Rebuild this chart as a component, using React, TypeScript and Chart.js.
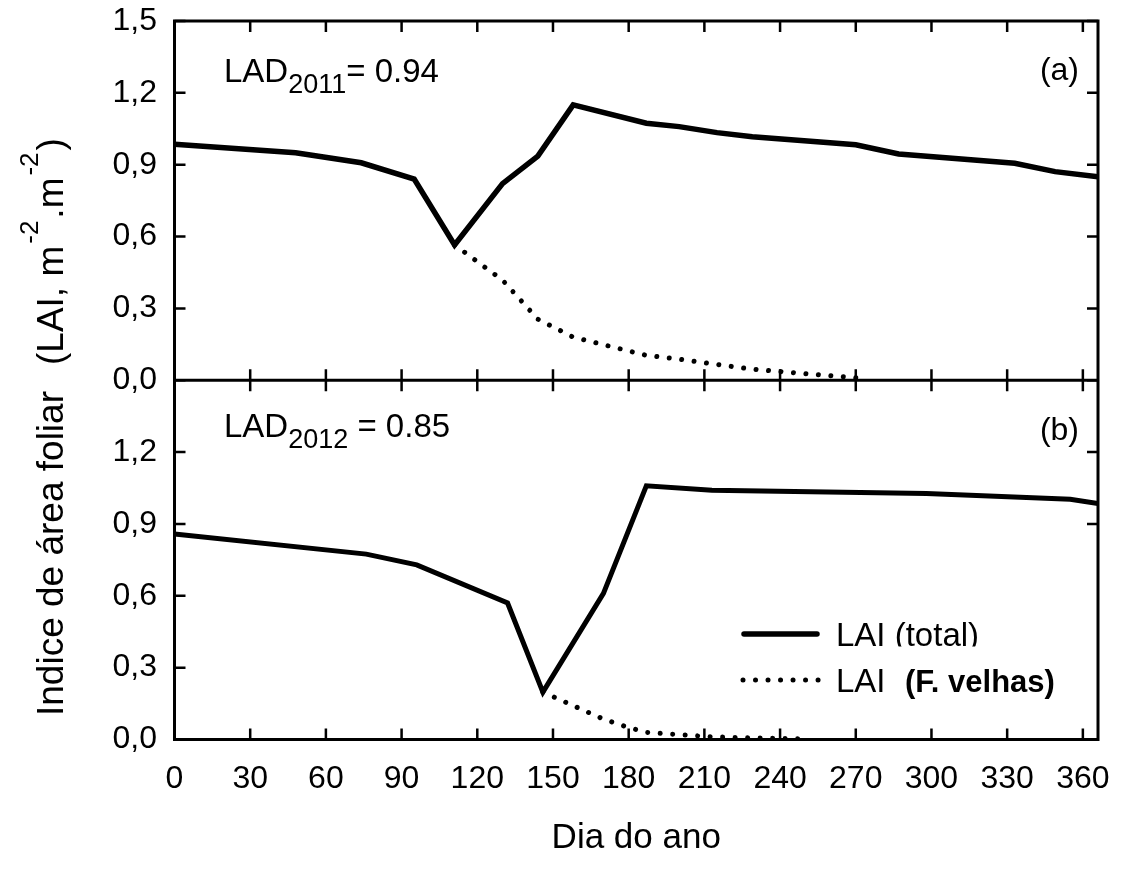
import React, { useEffect, useRef } from "react";
import { Chart, registerables } from "chart.js";

Chart.register(...registerables);

// ---------- data ----------
const xTickValues = [0, 30, 60, 90, 120, 150, 180, 210, 240, 270, 300, 330, 360];
const yTickValues = [0, 0.3, 0.6, 0.9, 1.2, 1.5];

const dayTotal2011 = [0, 48, 74, 95, 111, 130, 144, 158, 187, 200, 215, 229, 270, 287, 333, 349, 366];
const laiTotal2011 = [0.985, 0.95, 0.908, 0.84, 0.565, 0.821, 0.936, 1.15, 1.073, 1.059, 1.034, 1.017, 0.983, 0.945, 0.906, 0.871, 0.85];

const dayOld2011 = [111, 130, 144, 158, 187, 200, 215, 229, 270];
const laiOld2011 = [0.565, 0.418, 0.255, 0.18, 0.104, 0.088, 0.066, 0.046, 0.01];

const dayTotal2012 = [0, 76, 96, 132, 146, 170, 187, 213, 298, 355, 366];
const laiTotal2012 = [0.858, 0.774, 0.729, 0.57, 0.198, 0.61, 1.059, 1.041, 1.027, 1.003, 0.985];

const dayOld2012 = [146, 170, 180, 187, 213, 250];
const laiOld2012 = [0.198, 0.085, 0.05, 0.03, 0.011, 0.002];

const labelTotal = "LAI (total)";
const labelOldA = "LAI";
const labelOldB = "(F. velhas)";
const xTitle = "Dia do ano";

const FONT = "'Liberation Sans', Arial, Helvetica, sans-serif";

const toPoints = (xs: number[], ys: number[]) => xs.map((x, i) => ({ x, y: ys[i] }));
const fmt = (v: number) => Number(v).toFixed(1).replace(".", ",");

const legendBox = { top: 588, bottom: 737 };

const decorPlugin = {
  id: "decor",
  afterDraw(chart: any) {
    const { ctx, chartArea, scales } = chart;
    const x = scales.x;
    const yT = scales.yTop;
    const yB = scales.yBot;
    const L = chartArea.left;
    const R = chartArea.right;
    ctx.save();
    ctx.strokeStyle = "#000";
    ctx.fillStyle = "#000";

    // inward ticks
    const tl = 11;
    ctx.lineWidth = 2.5;
    ctx.beginPath();
    for (const v of xTickValues) {
      const px = x.getPixelForValue(v);
      const edges: [number, number][] = [
        [yT.top, 1],
        [yT.bottom, -1],
        [yB.top, 1],
        [yB.bottom, -1],
      ];
      for (const [e, d] of edges) {
        ctx.moveTo(px, e);
        ctx.lineTo(px, e + d * tl);
      }
    }
    const panels: [any, boolean][] = [
      [yT, false],
      [yB, true],
    ];
    for (const [ys, skip] of panels) {
      for (const v of yTickValues) {
        const py = ys.getPixelForValue(v);
        ctx.moveTo(L, py);
        ctx.lineTo(L + tl, py);
        if (skip && py > legendBox.top && py < legendBox.bottom) continue;
        ctx.moveTo(R, py);
        ctx.lineTo(R - tl, py);
      }
    }
    ctx.stroke();

    // frame
    ctx.lineWidth = 3;
    ctx.strokeRect(L, yT.top, R - L, yB.bottom - yT.top);
    ctx.beginPath();
    ctx.moveTo(L, yT.bottom);
    ctx.lineTo(R, yT.bottom);
    ctx.stroke();

    // LAD annotations
    const drawLAD = (xx: number, base: number, sub: string, rest: string) => {
      ctx.textAlign = "left";
      ctx.textBaseline = "alphabetic";
      ctx.font = `33px ${FONT}`;
      ctx.fillText("LAD", xx, base);
      let cx = xx + ctx.measureText("LAD").width;
      ctx.font = `27px ${FONT}`;
      ctx.fillText(sub, cx, base + 11);
      cx += ctx.measureText(sub).width;
      ctx.font = `33px ${FONT}`;
      ctx.fillText(rest, cx, base);
    };
    drawLAD(224, 81.7, "2011", "= 0.94");
    drawLAD(224, 436.7, "2012", " = 0.85");

    ctx.font = `32px ${FONT}`;
    ctx.textAlign = "right";
    ctx.fillText("(a)", 1079, 80);
    ctx.fillText("(b)", 1079, 440);

    // legend
    ctx.lineWidth = 5.5;
    ctx.lineCap = "round";
    ctx.beginPath();
    ctx.moveTo(744, 634);
    ctx.lineTo(817, 634);
    ctx.stroke();
    ctx.lineWidth = 5;
    ctx.setLineDash([0.01, 12.5]);
    ctx.beginPath();
    ctx.moveTo(743, 680);
    ctx.lineTo(820, 680);
    ctx.stroke();
    ctx.setLineDash([]);

    ctx.textAlign = "left";
    ctx.save();
    ctx.beginPath();
    ctx.rect(820, 600, 280, 46.5);
    ctx.clip();
    ctx.font = `33px ${FONT}`;
    ctx.fillText(labelTotal, 836, 645.5);
    ctx.restore();
    ctx.font = `33px ${FONT}`;
    ctx.fillText(labelOldA, 836, 691.7);
    ctx.font = `bold 31px ${FONT}`;
    ctx.fillText(labelOldB, 905, 691.7);

    // y-axis title (rotated, with superscripts)
    ctx.save();
    ctx.translate(63, 0);
    ctx.rotate(-Math.PI / 2);
    ctx.textAlign = "left";
    ctx.textBaseline = "alphabetic";
    ctx.font = `37px ${FONT}`;
    ctx.fillText("Indice de área foliar", -716, 0);
    let cx = -365;
    const part = (t: string, size: number, dy: number, gap = 0) => {
      ctx.font = `${size}px ${FONT}`;
      cx += gap;
      ctx.fillText(t, cx, dy);
      cx += ctx.measureText(t).width;
    };
    part("(LAI, m", 37, 0);
    part("-2", 26, -25, 2);
    part(".m", 37, 0, 2);
    part("-2", 26, -25, 2);
    part(")", 37, 0, 2);
    ctx.restore();

    ctx.restore();
  },
};

const yAxisFit = (s: any) => {
  s.width = 174.5;
  s.paddingTop = 0;
  s.paddingBottom = 0;
};

export default function App() {
  const ref = useRef<HTMLCanvasElement | null>(null);

  useEffect(() => {
    if (!ref.current) return;
    const lineBase = { pointRadius: 0, borderColor: "#000", fill: false, tension: 0 };
    const chart = new Chart(ref.current, {
      type: "line",
      data: {
        datasets: [
          { ...lineBase, label: labelTotal, data: toPoints(dayTotal2011, laiTotal2011), yAxisID: "yTop", borderWidth: 5.5, borderJoinStyle: "miter" },
          { ...lineBase, label: labelOldB, data: toPoints(dayOld2011, laiOld2011), yAxisID: "yTop", borderWidth: 5, borderDash: [0.01, 12.5], borderCapStyle: "round" },
          { ...lineBase, label: labelTotal, data: toPoints(dayTotal2012, laiTotal2012), yAxisID: "yBot", borderWidth: 5, borderJoinStyle: "miter" },
          { ...lineBase, label: labelOldB, data: toPoints(dayOld2012, laiOld2012), yAxisID: "yBot", borderWidth: 5, borderDash: [0.01, 12.5], borderCapStyle: "round" },
        ],
      } as any,
      options: {
        animation: false,
        responsive: false,
        maintainAspectRatio: false,
        devicePixelRatio: 1,
        layout: { padding: { top: 21, right: 33, bottom: 0, left: 0 } },
        plugins: { legend: { display: false }, tooltip: { enabled: false } },
        scales: {
          x: {
            type: "linear",
            position: "bottom",
            min: 0,
            max: 366,
            afterBuildTicks: (s: any) => {
              s.ticks = xTickValues.map((v) => ({ value: v }));
            },
            afterFit: (s: any) => {
              s.height = 137.5;
              s.paddingLeft = 0;
              s.paddingRight = 0;
            },
            ticks: {
              includeBounds: false,
              autoSkip: false,
              maxRotation: 0,
              padding: 20,
              color: "#000",
              font: { family: FONT, size: 32 },
            },
            grid: { display: false, drawTicks: false },
            border: { display: false },
            title: {
              display: true,
              text: xTitle,
              color: "#000",
              font: { family: FONT, size: 35 },
              padding: { top: 0, bottom: 18 },
            },
          },
          yTop: {
            type: "linear",
            position: "left",
            stack: "panels",
            stackWeight: 1,
            weight: 1,
            min: 0,
            max: 1.5,
            afterBuildTicks: (s: any) => {
              s.ticks = yTickValues.map((v) => ({ value: v }));
            },
            afterFit: yAxisFit,
            ticks: {
              padding: 17.5,
              color: "#000",
              font: { family: FONT, size: 32 },
              callback: (v: any) => fmt(v),
            },
            grid: { display: false, drawTicks: false },
            border: { display: false },
          },
          yBot: {
            type: "linear",
            position: "left",
            stack: "panels",
            stackWeight: 1,
            weight: 0,
            min: 0,
            max: 1.5,
            afterBuildTicks: (s: any) => {
              s.ticks = yTickValues.map((v) => ({ value: v }));
            },
            afterFit: yAxisFit,
            ticks: {
              padding: 17.5,
              color: "#000",
              font: { family: FONT, size: 32 },
              callback: (v: any) => (Number(v) >= 1.5 ? "" : fmt(v)),
            },
            grid: { display: false, drawTicks: false },
            border: { display: false },
          },
        },
      } as any,
      plugins: [decorPlugin],
    });
    return () => chart.destroy();
  }, []);

  return (
    <div style={{ position: "absolute", left: 0, top: 0, width: 1131, height: 877, background: "#fff" }}>
      <canvas ref={ref} width={1131} height={877} style={{ width: 1131, height: 877, display: "block" }} />
    </div>
  );
}
